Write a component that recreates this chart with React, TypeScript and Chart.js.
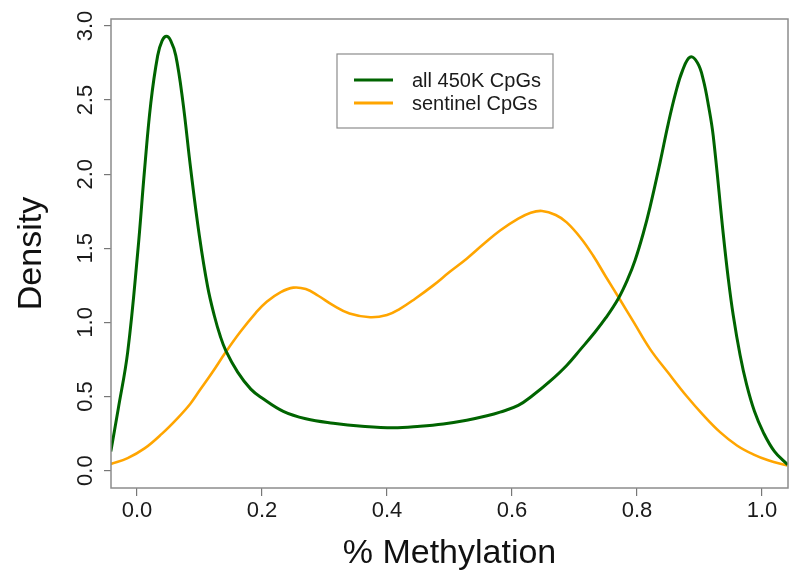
import React, { useEffect, useRef } from "react";
import { Chart, registerables } from "chart.js";

Chart.register(...registerables);

const seriesNames = ["all 450K CpGs", "sentinel CpGs"];
const seriesColors = ["#006400", "#FFA500"];

const allX = [-0.042, -0.03, -0.015, 0.001, 0.012, 0.022, 0.033, 0.04, 0.047, 0.054, 0.062, 0.073, 0.086, 0.0997, 0.113, 0.124, 0.133, 0.142, 0.161, 0.182, 0.2, 0.234, 0.27, 0.314, 0.36, 0.41, 0.453, 0.49, 0.5275, 0.56, 0.581, 0.61, 0.634, 0.66, 0.6875, 0.71, 0.73, 0.75, 0.77, 0.785, 0.797, 0.81, 0.821, 0.837, 0.85, 0.862, 0.873, 0.885, 0.897, 0.906, 0.915, 0.922, 0.938, 0.946, 0.954, 0.965, 0.9755, 0.988, 1.002, 1.02, 1.041];
const allY = [0.13, 0.42, 0.8, 1.47, 2.03, 2.48, 2.8, 2.9, 2.93, 2.9, 2.8, 2.5, 2.03, 1.585, 1.24, 1.04, 0.91, 0.81, 0.665, 0.55, 0.49, 0.4, 0.35, 0.32, 0.3, 0.29, 0.3, 0.315, 0.34, 0.37, 0.395, 0.44, 0.51, 0.6, 0.71, 0.82, 0.92, 1.03, 1.16, 1.29, 1.42, 1.6, 1.78, 2.08, 2.34, 2.55, 2.7, 2.79, 2.75, 2.64, 2.45, 2.26, 1.6, 1.3, 1.05, 0.78, 0.58, 0.4, 0.26, 0.13, 0.04];

const sentX = [-0.042, -0.015, 0.012, 0.04, 0.065, 0.085, 0.1, 0.12, 0.142, 0.165, 0.19, 0.2075, 0.23, 0.25, 0.27, 0.29, 0.314, 0.34, 0.373, 0.4, 0.42, 0.445, 0.474, 0.5, 0.5275, 0.555, 0.581, 0.61, 0.63, 0.648, 0.67, 0.6875, 0.71, 0.73, 0.75, 0.772, 0.795, 0.821, 0.85, 0.88, 0.905, 0.933, 0.96, 0.986, 1.01, 1.041];
const sentY = [0.045, 0.085, 0.15, 0.25, 0.355, 0.45, 0.54, 0.66, 0.8, 0.935, 1.065, 1.14, 1.205, 1.235, 1.225, 1.18, 1.115, 1.06, 1.035, 1.05, 1.09, 1.16, 1.25, 1.34, 1.43, 1.53, 1.62, 1.7, 1.74, 1.752, 1.725, 1.675, 1.57, 1.45, 1.31, 1.16, 1.0, 0.82, 0.66, 0.5, 0.38, 0.26, 0.17, 0.11, 0.07, 0.035];

const xTicks = [0, 0.2, 0.4, 0.6, 0.8, 1.0];
const xTickLabels = ["0.0", "0.2", "0.4", "0.6", "0.8", "1.0"];
const yTicks = [0, 0.5, 1.0, 1.5, 2.0, 2.5, 3.0];
const yTickLabels = ["0.0", "0.5", "1.0", "1.5", "2.0", "2.5", "3.0"];

const xRange = [-0.0417, 1.0417];
const yRange = [-0.117, 3.047];

const FONT = "'Liberation Sans', Arial, Helvetica, sans-serif";

const frameAndLegend = {
  id: "frameAndLegend",
  afterDraw(chart: any) {
    const ctx = chart.ctx;
    const { left, right, top, bottom } = chart.chartArea;
    ctx.save();
    ctx.strokeStyle = "#8c8c8c";
    ctx.lineWidth = 1.5;
    ctx.strokeRect(left, top, right - left, bottom - top);

    const ys = chart.scales.y;
    ctx.fillStyle = "#1a1a1a";
    ctx.font = `22px ${FONT}`;
    ctx.textAlign = "center";
    ctx.textBaseline = "middle";
    ys.ticks.forEach((t: any, i: number) => {
      const py = ys.getPixelForValue(t.value);
      ctx.save();
      ctx.translate(left - 25, py);
      ctx.rotate(-Math.PI / 2);
      ctx.fillText(yTickLabels[i], 0, 0);
      ctx.restore();
    });

    const lx = 337, ly = 54, lw = 216, lh = 74;
    ctx.fillStyle = "#ffffff";
    ctx.fillRect(lx, ly, lw, lh);
    ctx.strokeStyle = "#8c8c8c";
    ctx.lineWidth = 1.2;
    ctx.strokeRect(lx, ly, lw, lh);
    ctx.font = `20px ${FONT}`;
    ctx.textAlign = "left";
    ctx.textBaseline = "middle";
    chart.data.datasets.forEach((ds: any, i: number) => {
      const yy = ly + 26 + i * 23;
      ctx.strokeStyle = ds.borderColor;
      ctx.lineWidth = 3;
      ctx.beginPath();
      ctx.moveTo(lx + 17, yy);
      ctx.lineTo(lx + 56, yy);
      ctx.stroke();
      ctx.fillStyle = "#1a1a1a";
      ctx.fillText(ds.label, lx + 75, yy + 1);
    });
    ctx.restore();
  },
};

export default function App() {
  const ref = useRef<HTMLCanvasElement | null>(null);
  useEffect(() => {
    if (!ref.current) return;
    const chart = new Chart(ref.current, {
      type: "line",
      data: {
        datasets: [
          {
            label: seriesNames[0],
            data: allX.map((x, i) => ({ x, y: allY[i] })),
            borderColor: seriesColors[0],
            borderWidth: 3,
            pointRadius: 0,
            tension: 0.4,
            fill: false,
          },
          {
            label: seriesNames[1],
            data: sentX.map((x, i) => ({ x, y: sentY[i] })),
            borderColor: seriesColors[1],
            borderWidth: 2.6,
            pointRadius: 0,
            tension: 0.4,
            fill: false,
          },
        ],
      },
      options: {
        animation: false,
        responsive: false,
        devicePixelRatio: 1,
        layout: { padding: { left: 0, right: 12, top: 19, bottom: 0 } },
        plugins: { legend: { display: false }, tooltip: { enabled: false } },
        scales: {
          x: {
            type: "linear",
            min: xRange[0],
            max: xRange[1],
            afterBuildTicks: (s: any) => {
              s.ticks = xTicks.map((v) => ({ value: v }));
            },
            afterFit: (s: any) => {
              s.height = 96;
            },
            grid: { drawOnChartArea: false, drawTicks: true, tickLength: 8, color: "#777777", lineWidth: 1.2 },
            border: { display: false },
            ticks: {
              autoSkip: false,
              maxRotation: 0,
              padding: 2,
              color: "#1a1a1a",
              font: { size: 22, family: FONT },
              callback: (_v: any, i: number) => xTickLabels[i],
            },
            title: {
              display: true,
              text: "% Methylation",
              color: "#111111",
              font: { size: 34, family: FONT },
              padding: { top: 10, bottom: 10 },
            },
          },
          y: {
            type: "linear",
            min: yRange[0],
            max: yRange[1],
            afterBuildTicks: (s: any) => {
              s.ticks = yTicks.map((v) => ({ value: v }));
            },
            afterFit: (s: any) => {
              s.width = 111;
            },
            grid: { drawOnChartArea: false, drawTicks: true, tickLength: 7, color: "#777777", lineWidth: 1.2 },
            border: { display: false },
            ticks: { display: false },
            title: {
              display: true,
              text: "Density",
              color: "#111111",
              font: { size: 34, family: FONT },
              padding: { top: 11, bottom: 11 },
            },
          },
        },
      },
      plugins: [frameAndLegend],
    } as any);
    return () => chart.destroy();
  }, []);
  return (
    <div style={{ position: "absolute", left: 0, top: 0, width: 800, height: 584, background: "#fff" }}>
      <canvas ref={ref} width={800} height={584} style={{ display: "block" }} />
    </div>
  );
}
